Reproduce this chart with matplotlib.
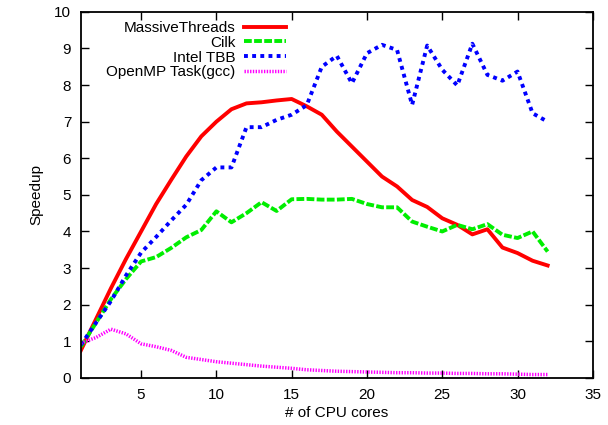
import matplotlib
matplotlib.use("Agg")
import matplotlib.pyplot as plt

plt.rcParams['font.family'] = ['Liberation Sans', 'DejaVu Sans']

cores = list(range(1, 33))

massive_threads = [0.75, 1.6, 2.45, 3.25, 4.0, 4.75, 5.41, 6.05, 6.6, 7.0,
                   7.34, 7.5, 7.53, 7.58, 7.62, 7.42, 7.19, 6.73, 6.32, 5.91,
                   5.5, 5.23, 4.86, 4.67, 4.36, 4.18, 3.92, 4.06, 3.56, 3.41,
                   3.2, 3.07]
cilk = [0.85, 1.5, 2.15, 2.7, 3.18, 3.3, 3.55, 3.84, 4.04, 4.55,
        4.25, 4.5, 4.8, 4.56, 4.88, 4.89, 4.87, 4.87, 4.89, 4.75,
        4.66, 4.66, 4.27, 4.13, 4.0, 4.18, 4.06, 4.2, 3.91, 3.82,
        4.0, 3.45]
intel_tbb = [0.9, 1.5, 2.1, 2.8, 3.42, 3.85, 4.3, 4.73, 5.4, 5.75,
             5.75, 6.85, 6.85, 7.05, 7.19, 7.45, 8.5, 8.8, 8.05, 8.87,
             9.1, 8.96, 7.46, 9.08, 8.42, 7.99, 9.13, 8.28, 8.12, 8.37,
             7.23, 7.0]
openmp_task = [0.95, 1.1, 1.33, 1.2, 0.93, 0.85, 0.75, 0.56, 0.5, 0.44,
               0.4, 0.36, 0.32, 0.29, 0.26, 0.22, 0.2, 0.18, 0.17, 0.16,
               0.15, 0.14, 0.14, 0.13, 0.13, 0.12, 0.12, 0.11, 0.11, 0.1,
               0.09, 0.09]

x_ticks = [5, 10, 15, 20, 25, 30, 35]
y_ticks = list(range(0, 11))

fig = plt.figure(figsize=(6.08, 4.25), dpi=100)
ax = fig.add_axes([0.133, 0.111, 0.842, 0.861])

ax.plot(cores, massive_threads, color='#ff0000', lw=2.8, label='MassiveThreads')
ax.plot(cores, cilk, color='#00ee00', lw=2.8, dashes=(2, 0.6), label='Cilk')
ax.plot(cores, intel_tbb, color='#0000ff', lw=2.8, dashes=(1, 1.1), label='Intel TBB')
ax.plot(cores, openmp_task, color='#ff00ff', lw=2.5, dashes=(0.4, 0.4),
        label='OpenMP Task(gcc)')

ax.set_xlim(1, 35)
ax.set_ylim(0, 10)
ax.set_xticks(x_ticks)
ax.set_yticks(y_ticks)
ax.tick_params(direction='in', length=6, width=1, top=True, right=True,
               labelsize=11, pad=7)
for s in ax.spines.values():
    s.set_linewidth(1.3)

ax.set_xlabel('# of CPU cores', fontsize=11, labelpad=3)
ax.set_ylabel('Speedup', fontsize=11, labelpad=8)

# gnuplot-style key: labels right-aligned, sample to the right
leg = ax.legend(loc='upper right', markerfirst=False, frameon=False,
                fontsize=11, handlelength=2.7, handletextpad=0.6,
                labelspacing=0.05, borderaxespad=0, borderpad=0,
                bbox_to_anchor=(0.400, 0.975))

fig.savefig('out.png', dpi=100)
